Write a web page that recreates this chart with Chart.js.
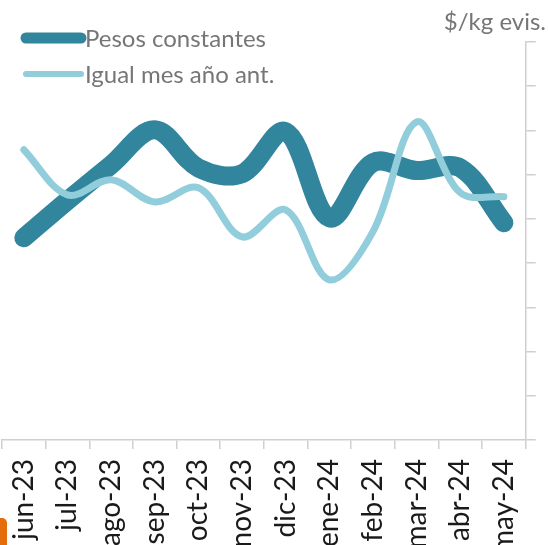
<!DOCTYPE html>
<html>
<head>
<meta charset="utf-8">
<script src="https://cdn.jsdelivr.net/npm/chart.js@4"></script>
<style>
  html, body { margin: 0; padding: 0; background: #fff; }
  #wrap { position: relative; width: 548px; height: 545px; overflow: hidden; }
  #marca { position: absolute; left: -6px; top: 518px; width: 13px; height: 40px;
           background: #E46C0A; border-radius: 0 5px 0 0; }
</style>
</head>
<body>
<div id="wrap"><canvas id="precioChart"></canvas><div id="marca"></div></div>
<script>
const meses = ["jun-23", "jul-23", "ago-23", "sep-23", "oct-23", "nov-23",
               "dic-23", "ene-24", "feb-24", "mar-24", "abr-24", "may-24"];
const pesosConstantes = [45.7, 54.1, 62.2, 70.1, 61.5, 60.2, 69.7, 50.2, 62.7, 60.9, 61.5, 49.1];
const igualMesAnoAnt = [65.6, 55.4, 58.8, 53.8, 57.0, 45.9, 52.0, 36.2, 47.1, 71.9, 55.9, 55.0];
const yMin = 0;
const yMax = 90;
const yPaso = 10;

const gris = "#cfcfcf";
const textoGris = "#767676";

// leyenda propia: trazo grueso + texto, apilada arriba a la izquierda
const leyendaLineas = {
    id: "leyendaLineas",
    afterDraw(chart) {
        const ctx = chart.ctx;
        ctx.save();
        chart.data.datasets.forEach((ds, i) => {
            const y = 38 + i * 36;
            ctx.strokeStyle = ds.borderColor;
            ctx.lineWidth = i === 0 ? 11 : 6;
            ctx.lineCap = "round";
            ctx.beginPath();
            ctx.moveTo(26, y);
            ctx.lineTo(81, y);
            ctx.stroke();
            ctx.fillStyle = textoGris;
            ctx.font = "24px Lato";
            ctx.textBaseline = "middle";
            ctx.textAlign = "left";
            ctx.fillText(ds.label, 85, y + 1);
        });
        ctx.restore();
    }
};

document.addEventListener("DOMContentLoaded", () => {
    const ctx = document.getElementById("precioChart").getContext("2d");

    const data = {
        labels: meses,
        datasets: [
            {
                label: "Pesos constantes",
                data: pesosConstantes,
                borderColor: "#31859C",
                borderWidth: 19,
                tension: 0.35,
                borderCapStyle: "round",
                borderJoinStyle: "round",
                pointRadius: 0,
                order: 2
            },
            {
                label: "Igual mes año ant.",
                data: igualMesAnoAnt,
                borderColor: "#92CDDC",
                borderWidth: 7,
                tension: 0.35,
                borderCapStyle: "round",
                borderJoinStyle: "round",
                pointRadius: 0,
                order: 1
            }
        ]
    };

    const options = {
        responsive: true,
        maintainAspectRatio: false,
        animation: false,
        layout: {
            padding: { left: 2, right: 2, top: 0, bottom: 0 }
        },
        plugins: {
            legend: { display: false },
            tooltip: { enabled: false },
            title: {
                display: true,
                text: "$/kg evis.",
                align: "end",
                color: textoGris,
                font: { family: "Lato", size: 24, weight: "normal", lineHeight: 1.2 },
                padding: { top: 8, bottom: 5 }
            }
        },
        scales: {
            x: {
                offset: true,
                grid: {
                    offset: true,
                    drawOnChartArea: false,
                    color: gris,
                    lineWidth: 1.5,
                    tickLength: 9
                },
                border: { color: gris, width: 1.5 },
                ticks: {
                    autoSkip: false,
                    minRotation: 90,
                    maxRotation: 90,
                    padding: 10,
                    color: "#1a1a1a",
                    font: { family: "Lato", size: 28 }
                },
                afterFit(scale) { scale.height = 105; }
            },
            y: {
                position: "right",
                min: yMin,
                max: yMax,
                grid: {
                    drawOnChartArea: false,
                    color: gris,
                    lineWidth: 1.5,
                    tickLength: 10
                },
                border: { color: gris, width: 1.5 },
                ticks: { display: false, stepSize: yPaso },
                afterFit(scale) { scale.width = 10; }
            }
        }
    };

    new Chart(ctx, {
        type: "line",
        data: data,
        options: options,
        plugins: [leyendaLineas]
    });
});
</script>
</body>
</html>
